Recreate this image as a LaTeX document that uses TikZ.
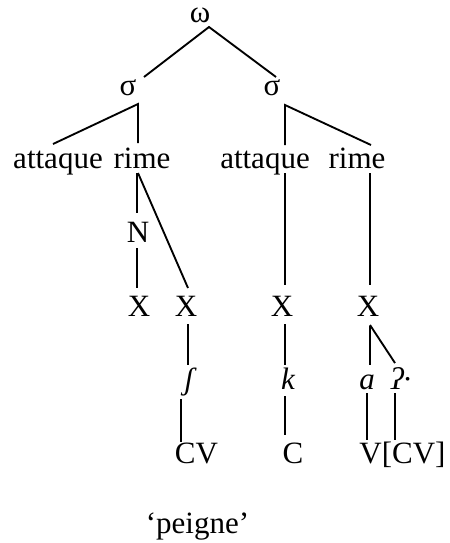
\documentclass[tikz,border=0pt]{standalone}
\usepackage{fontspec}
\setmainfont{Liberation Serif}
\usepackage{tikz}
\tikzstyle{br} = [draw, black, line width=1.4pt, -]
\tikzstyle{lab} = [anchor=base, inner sep=0pt]

\begin{document}
\begin{tikzpicture}[x=0.75pt, y=-0.75pt]
  \tikzstyle{every node}=[font=\fontsize{23.25}{28}\selectfont]
  \useasboundingbox (0,0) rectangle (450,543);
  % word and syllables
  \node[lab, text height=1ex] (om) at (200,22) {ω};
  \node[lab] (s1) at (128,95) {σ};
  \node[lab] (s2) at (272,95) {σ};
  \node[lab] (at1) at (58,168) {attaque};
  \node[lab] (ri1) at (142,168) {rime};
  \node[lab] (at2) at (265,168) {attaque};
  \node[lab] (ri2) at (357,168) {rime};
  \node[lab] (nuc) at (138,242) {N};
  % skeleton
  \node[lab] (x1) at (139,316) {X};
  \node[lab] (x2) at (186,316) {X};
  \node[lab] (x3) at (282,316) {X};
  \node[lab] (x4) at (368,316) {X};
  % segments
  \node[lab] (sh) at (189,389) {\itshape ʃ};
  \node[lab] (k) at (288,389) {\itshape k};
  \node[lab] (a) at (367,389) {\itshape a};
  \node[lab] (gs) at (401,389) {\itshape ʔ·};
  \node[lab] (cv) at (196.5,463) {CV};
  \node[lab] (c) at (293,463) {C};
  \node[lab] (vcv) at (402.5,463) {V[CV]};
  \node[lab] (gl) at (197.5,533) {‘peigne’};

  \draw[br] ([shift={(16,-18)}]s1.base) -- ([shift={(9,5)}]om.base) -- ([shift={(4,-18)}]s2.base);
  \draw[br] ([shift={(-5,-24)}]at1.base) -- ([shift={(10,9)}]s1.base) -- ([shift={(-4,-25)}]ri1.base);
  \draw[br] ([shift={(20,-23)}]at2.base) -- ([shift={(13,10)}]s2.base) -- ([shift={(14,-23)}]ri2.base);
  \draw[br] ([shift={(-5,5)}]ri1.base) -- ([shift={(-1,-29)}]nuc.base);
  \draw[br] ([shift={(-1,6)}]nuc.base) -- ([shift={(-2,-28)}]x1.base);
  \draw[br] ([shift={(-4,5)}]ri1.base) -- ([shift={(2,-28)}]x2.base);
  \draw[br] ([shift={(20,5)}]at2.base) -- ([shift={(3,-31)}]x3.base);
  \draw[br] ([shift={(13,5)}]ri2.base) -- ([shift={(2,-31)}]x4.base);
  \draw[br] ([shift={(2,8)}]x2.base) -- ([shift={(-1,-24)}]sh.base);
  \draw[br] ([shift={(3,8)}]x3.base) -- ([shift={(-3,-24)}]k.base);
  \draw[br] ([shift={(2,10)}]x4.base) -- ([shift={(3,-24)}]a.base);
  \draw[br] ([shift={(2,9)}]x4.base) -- ([shift={(-6,-26)}]gs.base);
  \draw[br] ([shift={(-8,10)}]sh.base) -- ([shift={(-15.5,-21)}]cv.base);
  \draw[br] ([shift={(-3,7)}]k.base) -- ([shift={(-8,-28)}]c.base);
  \draw[br] ([shift={(0,4)}]a.base) -- ([shift={(-35.5,-23)}]vcv.base);
  \draw[br] ([shift={(-6,4)}]gs.base) -- ([shift={(-7.5,-23)}]vcv.base);
\end{tikzpicture}
\end{document}
